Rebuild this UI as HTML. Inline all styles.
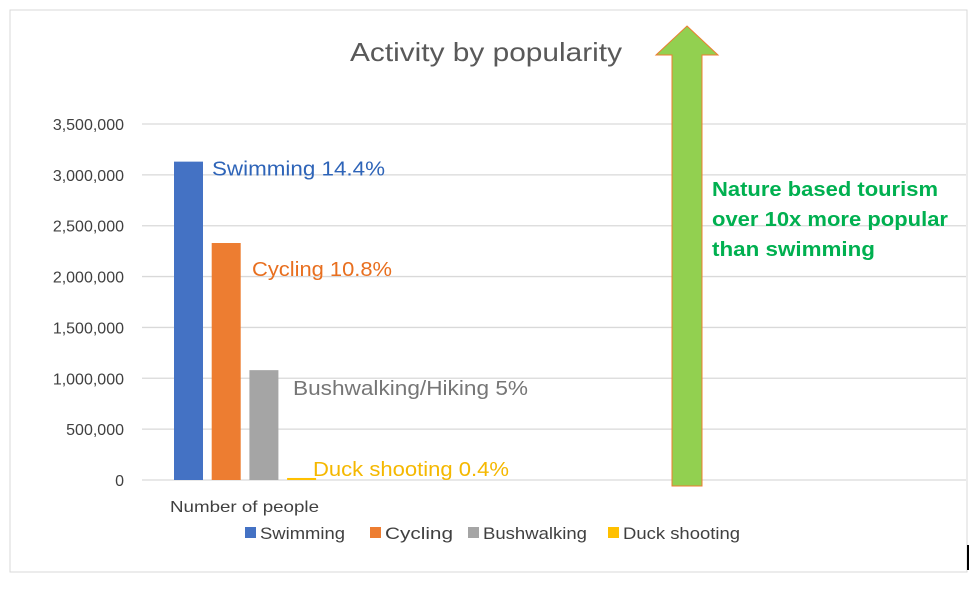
<!DOCTYPE html>
<html><head><meta charset="utf-8"><style>
body{margin:0;background:#fff;}
svg{font-family:"Liberation Sans",sans-serif;}
</style></head><body>
<svg width="980" height="588" viewBox="0 0 980 588">
<rect x="10" y="10" width="957" height="562" fill="#fff" stroke="#d9d9d9"/>
<line x1="968" y1="545" x2="968" y2="570" stroke="#000" stroke-width="2"/>
<text x="350" y="61" textLength="272" lengthAdjust="spacingAndGlyphs" font-size="26" fill="#595959">Activity by popularity</text>
<g id="grid"></g><g id="ylabels"></g><g id="bars"></g><g id="labels"></g>
<text x="170" y="512" textLength="149" lengthAdjust="spacingAndGlyphs" font-size="16" fill="#404040">Number of people</text>
<g id="legend"></g>
<path d="M687 26 L718 55 L702 55 L702 486 L672 486 L672 55 L656 55 Z" fill="#92d050" stroke="#ed7d31" stroke-width="1"/>
<g font-size="20" font-weight="bold" fill="#00b050">
<text x="712" y="196" textLength="226" lengthAdjust="spacingAndGlyphs">Nature based tourism</text>
<text x="712" y="226" textLength="236" lengthAdjust="spacingAndGlyphs">over 10x more popular</text>
<text x="712" y="256" textLength="163" lengthAdjust="spacingAndGlyphs">than swimming</text>
</g>
</svg>
<script>
const categories=["Swimming","Cycling","Bushwalking","Duck shooting"];
const values=[3130000,2330000,1080000,20000];
const colors=["#4472c4","#ed7d31","#a5a5a5","#ffc000"];
const pointLabels=["Swimming 14.4%","Cycling 10.8%","Bushwalking/Hiking 5%","Duck shooting 0.4%"];
const labelColors=["#2e64b8","#e86f1f","#767676","#f5b800"];
const ticks=[0,500000,1000000,1500000,2000000,2500000,3000000,3500000];
const NS="http://www.w3.org/2000/svg";
const y0=480,y1=124,vmax=3500000;
function y(v){return y0-(v/vmax)*(y0-y1);}
function mk(t,a,p){const e=document.createElementNS(NS,t);for(const k in a)e.setAttribute(k,a[k]);p.appendChild(e);return e;}
const G=document.getElementById('grid'),YL=document.getElementById('ylabels'),B=document.getElementById('bars'),L=document.getElementById('labels'),LG=document.getElementById('legend');
ticks.forEach(t=>{
 const l=mk('line',{x1:142,x2:966,y1:y(t),y2:y(t),stroke:'#d9d9d9','stroke-width':1.3},G);
 
 
 const tx=mk('text',{x:124,y:y(t)+6,'text-anchor':'end','font-size':16,fill:'#404040'},YL);
 tx.textContent=t.toLocaleString('en-US');
 
 
});
const bx0=174,bstep=37.7,bw=29;
const lpos=[[212,y(values[0])+14,173],[252,y(values[1])+33,140],[293,y(values[2])+25,235],[313,476,196]];
values.forEach((v,i)=>{
 const x=bx0+i*bstep;
 const h=Math.max(y0-y(v),1.5);
 const r=mk('rect',{x:x,y:y0-h,width:bw,height:h,fill:colors[i]},B);
 
 
 const t=mk('text',{x:lpos[i][0],y:lpos[i][1],'font-size':20,fill:labelColors[i],textLength:lpos[i][2],lengthAdjust:'spacingAndGlyphs'},L);
 t.textContent=pointLabels[i];
 
 
});
const lx=[245,370,468,608];
const lw=[85,68,104,117];
categories.forEach((c,i)=>{
 const r=mk('rect',{x:lx[i],y:527,width:11,height:11,fill:colors[i]},LG);
 
 
 const t=mk('text',{x:lx[i]+15,y:539,'font-size':17,fill:'#404040',textLength:lw[i],lengthAdjust:'spacingAndGlyphs'},LG);
 t.textContent=c;
 
 
});
</script>
</body></html>
